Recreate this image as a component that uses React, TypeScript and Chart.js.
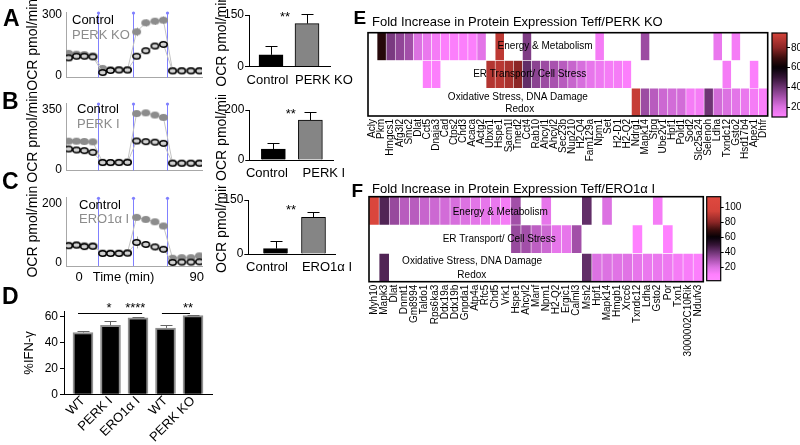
import React, { useEffect, useRef } from 'react';
import { Chart, registerables } from 'chart.js';

Chart.register(...registerables);

const FONT = "'Liberation Sans', Arial, Helvetica, sans-serif";
Chart.defaults.font.family = FONT;
Chart.defaults.color = '#000';

// ===================== DATA =====================
const N = null;

// Panels A–C : OCR traces
const OCR_TIMES = [-8, -2, 4, 10.5, 18, 24, 30.5, 37, 44, 51, 58, 64.5, 71.5, 78.5, 85.5, 92];
const INJECTION_TIMES = [14.5, 41, 67];
const OCR_X_TICKS = [0, 34, 90];
const OCR_X_TICK_LABELS = ['0', 'Time (min)', '90'];

const A_CONTROL = [90, 98, 98, 95, 18, 28, 30, 30, 98, 125, 148, 156, 26, 26, 26, 26];
const A_CONTROL_ERR = [5, 4, 4, 4, 3, 3, 3, 3, 10, 12, 14, 16, 3, 3, 3, 3];
const A_PERKKO = [112, 108, 106, 100, 38, 33, 33, 32, 218, 262, 270, 275, 28, 28, 28, 28];
const A_PERKKO_ERR = [8, 6, 6, 6, 4, 4, 4, 4, 22, 18, 18, 20, 3, 3, 3, 3];

const B_CONTROL = [120, 114, 110, 100, 40, 40, 40, 41, 167, 163, 160, 153, 36, 36, 36, 36];
const B_CONTROL_ERR = [5, 5, 5, 5, 3, 3, 3, 3, 12, 10, 10, 10, 3, 3, 3, 3];
const B_PERKI = [166, 166, 164, 162, 42, 40, 42, 44, 329, 333, 320, 306, 37, 36, 36, 37];
const B_PERKI_ERR = [6, 6, 6, 6, 3, 3, 3, 3, 12, 12, 12, 12, 3, 3, 3, 3];

const C_CONTROL = [58, 60, 55, 56, 32, 32, 32, 33, 69, 62, 54, 46, 2, 3, 3, 4];
const C_CONTROL_ERR = [4, 4, 4, 4, 3, 3, 3, 3, 20, 10, 12, 10, 3, 3, 3, 3];
const C_ERO1 = [60, 61, 59, 58, 34, 34, 34, 35, 153, 146, 138, 124, 16, 18, 18, 24];
const C_ERO1_ERR = [4, 4, 4, 4, 3, 3, 3, 3, 8, 8, 8, 8, 3, 3, 3, 3];

// Bar insets A–C
const BAR_A_GROUPS = ['Control', 'PERK KO'];
const BAR_A_VALUES = [34, 125];
const BAR_A_ERR = [27, 29];
const BAR_B_GROUPS = ['Control', 'PERK I'];
const BAR_B_VALUES = [44, 160];
const BAR_B_ERR = [25, 31];
const BAR_C_GROUPS = ['Control', 'ERO1\u03b1 I'];
const BAR_C_VALUES = [15, 102];
const BAR_C_ERR = [21, 16];

// Panel D
const IFN_GROUPS = ['WT', 'PERK I', 'ERO1\u03b1 I', 'WT', 'PERK KO'];
const IFN_VALUES = [47.5, 53, 58.7, 51, 60.5];
const IFN_ERR = [0.8, 3.2, 1.0, 2.5, 0.8];
const IFN_TICKS = [0, 20, 40, 60];

// Panel E heatmap
const E_GENES = ['Acly', 'Pkm', 'Hmgcs1', 'Afg3l2', 'Smc2', 'Dlat', 'Cct5', 'Dnaja3', 'Cad', 'Ctps2', 'Chd3', 'Acaca', 'Actg2', 'Ubxn1', 'Hspe1', 'Sacm1l', 'Tmed2', 'Cct4', 'Rab10', 'Ahcyl1', 'Ahcyl2', 'Sec23b', 'Nup210', 'H2-Q4', 'Fam129a', 'Npm1', 'Set', 'H2-D1', 'H2-Q2', 'Ndrg1', 'Mapk14', 'Sfpq', 'Ube2v1', 'Hpf1', 'Pold1', 'Sod2', 'Slc25a24', 'Selenoh', 'Ldha', 'Txndc12', 'Gsto2', 'Hsd17b4', 'Apex1', 'Dhfr'];
const E_ENERGY = [N, 66, 38, 34, 31, 20, 16, 13, 11, 11, 11, 11, 18, N, 90, N, N, 37, N, N, N, N, N, N, N, 13, N, N, N, N, 32, N, N, N, N, N, N, N, 16, N, 13, N, N, N];
const E_ER = [N, N, N, N, N, N, 11, 11, N, N, N, N, N, 88, 89, 86, 80, 42, 35, 32, 30, 27, 24, 21, 17, 15, 13, 13, 11, N, N, N, N, N, N, N, N, N, N, 13, N, N, 11, N];
const E_OXID = [N, N, N, N, N, N, N, N, N, N, N, N, N, N, N, N, N, N, N, N, N, N, N, N, N, N, N, N, N, 92, 32, 27, 23, 22, 22, 13, 13, 40, 22, 20, 18, 16, 13, 11];
const E_SCALE_TICKS = [20, 40, 60, 80];

// Panel F heatmap
const F_GENES = ['Myh10', 'Mapk3', 'Dlat', 'Dnmt1', 'Gm8994', 'Taldo1', 'Rps6ka3', 'Ddx19a', 'Ddx19b', 'Gnpda1', 'Atp4a', 'Rfc5', 'Chd5', 'Vrk1', 'Hspe1', 'Ahcyl2', 'Manf', 'Npm1', 'H2-Q2', 'Ergic1', 'Calml3', 'Msh2', 'Hpf1', 'Mapk14', 'Hmgb1', 'Xrcc6', 'Txndc12', 'Ldha', 'Gsto2', 'Por', 'Txn1', '3000002C10Rik', 'Ndufv3'];
const F_ENERGY = [105, 45, 33, 27, 27, 24, 23, 22, 21, 20, 18, 17, 16, 13, 31, N, N, 17, N, N, N, 42, N, 20, N, N, N, N, 13, N, N, N, N];
const F_ER = [N, N, N, N, N, N, N, N, N, N, N, N, N, N, 33, 31, 26, 23, 17, 17, 31, N, N, N, N, N, 9, N, N, 9, N, N, N];
const F_OXID = [N, 45, N, N, N, N, N, N, N, N, N, N, N, N, N, N, N, N, N, N, N, 42, 20, 20, 19, 19, 17, 16, 16, 15, 13, 12, 11];
const F_SCALE_TICKS = [20, 40, 60, 80, 100];

const ROW_LABELS = ['Energy & Metabolism', 'ER Transport/ Cell Stress', 'Oxidative Stress, DNA Damage', 'Redox'];

// ===================== STYLE HELPERS =====================
const COLOR_STOPS: [number, string][] = [
  [0, '#ff8cff'], [10, '#ff80ff'], [20, '#dc72e2'], [30, '#a852ae'], [40, '#6e3474'],
  [50, '#341436'], [60, '#050005'], [70, '#3c0e0e'], [80, '#8c2626'], [95, '#d5433a'], [120, '#e24a40'],
];
function hexRgb(h: string) {
  const n = parseInt(h.slice(1), 16);
  return [(n >> 16) & 255, (n >> 8) & 255, n & 255];
}
function colorAt(v: number) {
  const s = COLOR_STOPS;
  if (v <= s[0][0]) return s[0][1];
  for (let i = 0; i < s.length - 1; i++) {
    if (v <= s[i + 1][0]) {
      const t = (v - s[i][0]) / (s[i + 1][0] - s[i][0]);
      const a = hexRgb(s[i][1]);
      const b = hexRgb(s[i + 1][1]);
      const c = a.map((x, k) => Math.round(x + (b[k] - x) * t));
      return `rgb(${c[0]},${c[1]},${c[2]})`;
    }
  }
  return s[s.length - 1][1];
}

function makeEllipse(w: number, h: number, fill: string, stroke: string, lw: number) {
  const c = document.createElement('canvas');
  c.width = w + 2;
  c.height = h + 2;
  const g = c.getContext('2d')!;
  g.beginPath();
  g.ellipse(c.width / 2, c.height / 2, w / 2 - lw / 2, h / 2 - lw / 2, 0, 0, Math.PI * 2);
  g.fillStyle = fill;
  g.fill();
  if (lw > 0) {
    g.lineWidth = lw;
    g.strokeStyle = stroke;
    g.stroke();
  }
  return c;
}

// ===================== PLUGINS =====================
function drawErrors(chart: any, opts: any) {
  const ctx = chart.ctx;
  chart.data.datasets.forEach((ds: any, i: number) => {
    if (!ds.errors) return;
    const meta = chart.getDatasetMeta(i);
    const ys = chart.scales[meta.yAxisID];
    ctx.save();
    ctx.strokeStyle = opts.color || '#000';
    ctx.lineWidth = 1;
    meta.data.forEach((el: any, j: number) => {
      const e = ds.errors[j];
      const raw = ds.data[j];
      if (!e || raw == null) return;
      const v = typeof raw === 'number' ? raw : raw.y;
      const x = Math.round(el.x) + 0.5;
      const yTop = Math.round(ys.getPixelForValue(v + e)) + 0.5;
      const yBot = opts.oneSided ? ys.getPixelForValue(v) : ys.getPixelForValue(v - e);
      ctx.beginPath();
      ctx.moveTo(x, yTop);
      ctx.lineTo(x, yBot);
      if (opts.cap) {
        ctx.moveTo(x - opts.cap, yTop);
        ctx.lineTo(x + opts.cap, yTop);
      }
      ctx.stroke();
    });
    ctx.restore();
  });
}
const errorBarPlugin = {
  id: 'errorBars',
  beforeDatasetsDraw(chart: any, _a: any, opts: any) { if (opts.behind) drawErrors(chart, opts); },
  afterDatasetsDraw(chart: any, _a: any, opts: any) { if (!opts.behind) drawErrors(chart, opts); },
};

const injectionPlugin = {
  id: 'injections',
  beforeDatasetsDraw(chart: any, _a: any, opts: any) {
    if (!opts.times) return;
    const { ctx, chartArea, scales } = chart;
    ctx.save();
    ctx.strokeStyle = opts.color;
    ctx.fillStyle = opts.color;
    ctx.lineWidth = 1;
    opts.times.forEach((t: number) => {
      const px = Math.round(scales.x.getPixelForValue(t)) + 0.5;
      ctx.beginPath();
      ctx.moveTo(px, chartArea.top);
      ctx.lineTo(px, chartArea.bottom);
      ctx.stroke();
      ctx.beginPath();
      ctx.arc(px, chartArea.top + 1, 1.6, 0, Math.PI * 2);
      ctx.fill();
    });
    ctx.restore();
  },
};

const inlineLegendPlugin = {
  id: 'inlineLegend',
  afterDraw(chart: any, _a: any, opts: any) {
    if (opts.dx == null) return;
    const { ctx, chartArea } = chart;
    ctx.save();
    ctx.font = `${opts.size || 13}px ${FONT}`;
    ctx.textBaseline = 'middle';
    ctx.textAlign = 'left';
    chart.data.datasets.forEach((ds: any, i: number) => {
      ctx.fillStyle = ds.legendColor || '#000';
      ctx.fillText(ds.label, chartArea.left + opts.dx, chartArea.top + opts.dy + i * opts.gap);
    });
    ctx.restore();
  },
};

const annotationPlugin = {
  id: 'annotations',
  afterDatasetsDraw(chart: any, _a: any, opts: any) {
    const items = opts.items || [];
    const { ctx, scales } = chart;
    const xs = scales.x;
    const ys = scales.y;
    ctx.save();
    items.forEach((it: any) => {
      if (it.type === 'line') {
        const y = Math.round(ys.getPixelForValue(it.y)) + 0.5;
        ctx.strokeStyle = '#000';
        ctx.lineWidth = 1;
        ctx.beginPath();
        ctx.moveTo(xs.getPixelForValue(it.x1), y);
        ctx.lineTo(xs.getPixelForValue(it.x2), y);
        ctx.stroke();
      } else {
        ctx.fillStyle = '#000';
        ctx.font = `${opts.size || 13}px ${FONT}`;
        ctx.textAlign = 'center';
        ctx.textBaseline = 'middle';
        ctx.fillText(it.text, xs.getPixelForValue(it.x), ys.getPixelForValue(it.y));
      }
    });
    ctx.restore();
  },
};

const framePlugin = {
  id: 'frame',
  afterDraw(chart: any, _a: any, opts: any) {
    if (!opts.display) return;
    const { ctx, chartArea: a } = chart;
    ctx.save();
    ctx.strokeStyle = '#000';
    ctx.lineWidth = opts.width || 1.5;
    ctx.strokeRect(a.left, a.top, a.right - a.left, a.bottom - a.top);
    ctx.restore();
  },
};

const BASE = { responsive: false, animation: false, events: [] as any[] };
const NO_UI = { legend: { display: false }, tooltip: { enabled: false } };
const NO_GRID = { display: false, drawTicks: false };

// ===================== CONFIG BUILDERS =====================
function ocrLineConfig(p: any) {
  const controlPt = makeEllipse(9, 7, '#d2d2d2', '#000', 1.6);
  const treatedPt = makeEllipse(9, 7, '#8c8c8c', '#8c8c8c', 0);
  const toXY = (vals: number[]) => OCR_TIMES.map((t, i) => ({ x: t, y: vals[i] }));
  return {
    type: 'line',
    data: {
      datasets: [
        { label: 'Control', data: toXY(p.control), errors: p.controlErr, legendColor: '#000', borderColor: '#c4c4c4', borderWidth: 1, pointStyle: controlPt, pointRadius: 4, order: 0 },
        { label: p.treatedLabel, data: toXY(p.treated), errors: p.treatedErr, legendColor: '#8c8c8c', borderColor: '#c4c4c4', borderWidth: 1, pointStyle: treatedPt, pointRadius: 4, order: 1 },
      ],
    },
    options: {
      ...BASE,
      layout: { padding: { left: 0, right: p.padRight, top: p.padTop, bottom: 0 } },
      plugins: {
        ...NO_UI,
        inlineLegend: { dx: p.legendDx, dy: p.legendDy, gap: p.legendGap, size: 13 },
        injections: { times: INJECTION_TIMES, color: '#8080ff' },
        errorBars: { behind: true, color: '#b0b0b0' },
      },
      scales: {
        x: {
          type: 'linear', min: -10, max: 94, offset: false,
          grid: NO_GRID, border: { color: '#a8a8a8' },
          ticks: { display: p.showX, font: { size: 13 }, padding: 4, color: '#000', autoSkip: false, maxRotation: 0, callback: (_v: any, i: number) => OCR_X_TICK_LABELS[i] },
          afterBuildTicks: (s: any) => { s.ticks = OCR_X_TICKS.map((v) => ({ value: v })); },
          afterFit: (s: any) => { s.height = p.xHeight; s.paddingLeft = 0; s.paddingRight = 0; },
        },
        y: {
          type: 'linear', min: p.yMin, max: p.yMax,
          grid: NO_GRID, border: { color: '#a8a8a8' },
          ticks: { font: { size: 12 }, padding: 4, color: '#000' },
          afterBuildTicks: (s: any) => { s.ticks = p.yTicks.map((v: number) => ({ value: v })); },
          afterFit: (s: any) => { s.width = 66; s.paddingTop = 0; s.paddingBottom = 0; },
          title: { display: true, text: 'OCR pmol/min', font: { size: 14 }, color: '#000', padding: { top: 24.6, bottom: 0 } },
        },
      },
    },
    plugins: [errorBarPlugin, injectionPlugin, inlineLegendPlugin],
  };
}

function ocrBarConfig(p: any) {
  return {
    type: 'bar',
    data: {
      datasets: [{ data: p.values.map((v: number, i: number) => ({ x: i, y: v })), errors: p.errs, backgroundColor: ['#000', '#858585'], borderColor: '#000', borderWidth: 1, barThickness: 24 }],
    },
    options: {
      ...BASE,
      layout: { padding: { left: 0, right: p.padRight, top: p.padTop, bottom: 0 } },
      plugins: {
        ...NO_UI,
        errorBars: { color: '#000', oneSided: true, cap: 6 },
        annotations: { items: [{ type: 'text', text: '**', x: p.starX, y: p.starY }], size: 13 },
      },
      scales: {
        x: {
          type: 'linear', offset: false, min: p.xMin, max: p.xMax,
          grid: NO_GRID, border: { color: '#000' },
          ticks: { font: { size: 13 }, padding: 6, color: '#000', autoSkip: false, minRotation: 0, maxRotation: 0, callback: (_v: any, i: number) => p.groups[i] },
          afterBuildTicks: (s: any) => { s.ticks = p.labelAt.map((v: number) => ({ value: v })); },
          afterFit: (s: any) => { s.height = p.xHeight; s.paddingLeft = 0; s.paddingRight = 0; },
        },
        y: {
          min: 0, max: p.yMax,
          grid: { drawOnChartArea: false, drawTicks: true, tickLength: 4, color: '#000' },
          border: { color: '#000' },
          ticks: { font: { size: 12 }, padding: 1, color: '#000' },
          afterBuildTicks: (s: any) => { s.ticks = [0, p.yMax].map((v) => ({ value: v })); },
          afterFit: (s: any) => { s.width = p.yWidth; s.paddingTop = 0; s.paddingBottom = 0; },
          title: { display: true, text: 'OCR pmol/min', font: { size: 14 }, color: '#000', padding: { top: 1.6, bottom: 0 } },
        },
      },
    },
    plugins: [errorBarPlugin, annotationPlugin],
  };
}

function ifnConfig() {
  const sig = [
    { type: 'line', x1: -0.18, x2: 2.15, y: 62.5 },
    { type: 'text', text: '*', x: 0.95, y: 66 },
    { type: 'text', text: '****', x: 1.9, y: 66 },
    { type: 'line', x1: 2.87, x2: 3.89, y: 62.5 },
    { type: 'text', text: '**', x: 3.82, y: 66 },
  ];
  return {
    type: 'bar',
    data: {
      datasets: [{ data: IFN_VALUES.map((v, i) => ({ x: i, y: v })), errors: IFN_ERR, backgroundColor: '#000', borderColor: '#8f8f8f', borderWidth: 2, barThickness: 20 }],
    },
    options: {
      ...BASE,
      layout: { padding: { left: 0, right: 8, top: 26.7, bottom: 0 } },
      plugins: { ...NO_UI, errorBars: { color: '#666', oneSided: true, cap: 6 }, annotations: { items: sig, size: 13 } },
      scales: {
        x: {
          type: 'linear', offset: false, min: -0.69, max: 4.69,
          grid: NO_GRID, border: { color: '#000' },
          ticks: { font: { size: 13 }, color: '#000', autoSkip: false, minRotation: 45, maxRotation: 45, padding: -1, callback: (_v: any, i: number) => IFN_GROUPS[i] },
          afterBuildTicks: (s: any) => { s.ticks = IFN_GROUPS.map((_g, i) => ({ value: i })); },
          afterFit: (s: any) => { s.height = 50.7; s.paddingLeft = 0; s.paddingRight = 0; },
        },
        y: {
          min: 0, max: 63.5,
          grid: { drawOnChartArea: false, drawTicks: true, tickLength: 4, color: '#000' },
          border: { color: '#000' },
          ticks: { font: { size: 12 }, padding: 2, color: '#000' },
          afterBuildTicks: (s: any) => { s.ticks = IFN_TICKS.map((v) => ({ value: v })); },
          afterFit: (s: any) => { s.width = 64; s.paddingTop = 0; s.paddingBottom = 0; },
          title: { display: true, text: '%IFN-\u03b3', font: { size: 13 }, color: '#000', padding: { top: 22, bottom: 0 } },
        },
      },
    },
    plugins: [errorBarPlugin, annotationPlugin],
  };
}

function heatmapConfig(p: any) {
  const rowDataset = (vals: (number | null)[], r: number) => ({
    data: vals.map((v) => (v == null ? null : [2 - r, 3 - r])),
    backgroundColor: vals.map((v) => (v == null ? 'rgba(0,0,0,0)' : colorAt(v))),
    borderColor: 'rgba(255,255,255,0.4)',
    borderWidth: 0.6,
    borderSkipped: false,
    barPercentage: 1,
    categoryPercentage: 1,
    grouped: false,
  });
  return {
    type: 'bar',
    data: { labels: p.genes, datasets: p.rows.map(rowDataset) },
    options: {
      ...BASE,
      layout: { padding: p.padding },
      plugins: { ...NO_UI, annotations: { items: p.rowLabels, size: 10 }, frame: { display: true, width: 1.6 } },
      scales: {
        x: {
          type: 'category', offset: true,
          grid: NO_GRID, border: { display: false },
          ticks: { autoSkip: false, minRotation: 90, maxRotation: 90, font: { size: 10 }, padding: 3, color: '#000' },
          afterFit: (s: any) => { s.height = p.xHeight; s.paddingLeft = 0; s.paddingRight = 0; },
        },
        y: { type: 'linear', min: 0, max: 3, display: false },
      },
    },
    plugins: [annotationPlugin, framePlugin],
  };
}

function gradientFor(chart: any) {
  const { chartArea, scales } = chart;
  if (!chartArea) return '#ffffff';
  const y = scales.y;
  const g = chart.ctx.createLinearGradient(0, chartArea.bottom, 0, chartArea.top);
  const n = 40;
  for (let i = 0; i <= n; i++) {
    const v = y.min + ((y.max - y.min) * i) / n;
    g.addColorStop(i / n, colorAt(v));
  }
  return g;
}

function colorbarConfig(p: any) {
  return {
    type: 'bar',
    data: {
      labels: [''],
      datasets: [{ data: [[p.min, p.max]], backgroundColor: (c: any) => gradientFor(c.chart), borderWidth: 0, barPercentage: 1, categoryPercentage: 1 }],
    },
    options: {
      ...BASE,
      layout: { padding: p.padding },
      plugins: { ...NO_UI, frame: { display: true, width: 1.2 } },
      scales: {
        x: { display: false },
        y: {
          position: 'right', min: p.min, max: p.max,
          grid: { drawOnChartArea: false, drawTicks: true, tickLength: 3, color: '#000' },
          border: { display: false },
          ticks: { font: { size: p.fontSize }, padding: 1, color: '#000' },
          afterBuildTicks: (s: any) => { s.ticks = p.ticks.map((v: number) => ({ value: v })); },
          afterFit: (s: any) => { s.width = p.yWidth; s.paddingTop = 0; s.paddingBottom = 0; },
        },
      },
    },
    plugins: [framePlugin],
  };
}

// ===================== COMPONENTS =====================
function ChartBox({ left, top, width, height, make }: any) {
  const ref = useRef<HTMLCanvasElement>(null);
  useEffect(() => {
    const chart = new Chart(ref.current as HTMLCanvasElement, make());
    return () => chart.destroy();
  }, []);
  return <canvas ref={ref} width={width} height={height} style={{ position: 'absolute', left, top, width, height }} />;
}

function Text({ text, left, top, size, bold }: any) {
  return (
    <div style={{ position: 'absolute', left, top, fontFamily: FONT, fontSize: size, lineHeight: `${size}px`, fontWeight: bold ? 'bold' : 'normal', whiteSpace: 'nowrap', color: '#000' }}>
      {text}
    </div>
  );
}

export default function App() {
  return (
    <div style={{ position: 'absolute', left: 0, top: 0, width: 800, height: 445, background: '#fff', overflow: 'hidden' }}>
      <ChartBox left={0} top={0} width={215} height={90} make={() => ocrLineConfig({
        control: A_CONTROL, controlErr: A_CONTROL_ERR, treated: A_PERKKO, treatedErr: A_PERKKO_ERR, treatedLabel: 'PERK KO',
        yMin: -7, yMax: 315, yTicks: [0, 300], padTop: 12, padRight: 13, xHeight: 12.4, showX: false, legendDx: 6, legendDy: 8, legendGap: 15,
      })} />
      <ChartBox left={0} top={92} width={215} height={90} make={() => ocrLineConfig({
        control: B_CONTROL, controlErr: B_CONTROL_ERR, treated: B_PERKI, treatedErr: B_PERKI_ERR, treatedLabel: 'PERK I',
        yMin: -7, yMax: 391, yTicks: [0, 350], padTop: 11, padRight: 13, xHeight: 11.5, showX: false, legendDx: 11, legendDy: 6.3, legendGap: 14.7,
      })} />
      <ChartBox left={0} top={186} width={215} height={100} make={() => ocrLineConfig({
        control: C_CONTROL, controlErr: C_CONTROL_ERR, treated: C_ERO1, treatedErr: C_ERO1_ERR, treatedLabel: 'ERO1\u03b1 I',
        yMin: -10, yMax: 220, yTicks: [0, 200], padTop: 11.3, padRight: 13, xHeight: 20, showX: true, legendDx: 13, legendDy: 7.7, legendGap: 14,
      })} />

      <ChartBox left={212} top={0} width={150} height={92} make={() => ocrBarConfig({
        groups: BAR_A_GROUPS, values: BAR_A_VALUES, errs: BAR_A_ERR, yMax: 150, yWidth: 37, padRight: 32, padTop: 15, xHeight: 25.5,
        xMin: -0.611, xMax: 1.639, labelAt: [-0.097, 1.47], starX: 0.39, starY: 142.6,
      })} />
      <ChartBox left={212} top={95} width={150} height={92} make={() => ocrBarConfig({
        groups: BAR_B_GROUPS, values: BAR_B_VALUES, errs: BAR_B_ERR, yMax: 200, yWidth: 37.3, padRight: 29, padTop: 15, xHeight: 27,
        xMin: -0.65, xMax: 1.611, labelAt: [-0.176, 1.365], starX: 0.47, starY: 184,
      })} />
      <ChartBox left={212} top={185} width={150} height={92} make={() => ocrBarConfig({
        groups: BAR_C_GROUPS, values: BAR_C_VALUES, errs: BAR_C_ERR, yMax: 150, yWidth: 36.3, padRight: 27, padTop: 15, xHeight: 23,
        xMin: -0.716, xMax: 1.566, labelAt: [-0.224, 1.355], starX: 0.41, starY: 120,
      })} />

      <ChartBox left={0} top={285} width={220} height={160} make={ifnConfig} />

      <ChartBox left={360} top={28} width={412} height={150} make={() => heatmapConfig({
        genes: E_GENES, rows: [E_ENERGY, E_ER, E_OXID], xHeight: 62,
        padding: { left: 8, right: 4.3, top: 4.7, bottom: 0 },
        rowLabels: [
          { type: 'text', text: ROW_LABELS[0], x: 19, y: 2.5 },
          { type: 'text', text: ROW_LABELS[1], x: 17.3, y: 1.5 },
          { type: 'text', text: ROW_LABELS[2], x: 16, y: 0.68 },
          { type: 'text', text: ROW_LABELS[3], x: 16.2, y: 0.26 },
        ],
      })} />
      <ChartBox left={766} top={28} width={34} height={95} make={() => colorbarConfig({
        min: 10, max: 95, ticks: E_SCALE_TICKS, fontSize: 10, yWidth: 13, padding: { left: 6, right: 0, top: 5, bottom: 6 },
      })} />

      <ChartBox left={361} top={190} width={350} height={170} make={() => heatmapConfig({
        genes: F_GENES, rows: [F_ENERGY, F_ER, F_OXID], xHeight: 78.3,
        padding: { left: 8, right: 7.7, top: 6.7, bottom: 0 },
        rowLabels: [
          { type: 'text', text: ROW_LABELS[0], x: 12.45, y: 2.44 },
          { type: 'text', text: ROW_LABELS[1], x: 12.35, y: 1.5 },
          { type: 'text', text: ROW_LABELS[2], x: 9.68, y: 0.71 },
          { type: 'text', text: ROW_LABELS[3], x: 9.65, y: 0.23 },
        ],
      })} />
      <ChartBox left={700} top={190} width={50} height={96} make={() => colorbarConfig({
        min: 2, max: 114, ticks: F_SCALE_TICKS, fontSize: 10, yWidth: 29.3, padding: { left: 6.7, right: 0, top: 6.7, bottom: 5.3 },
      })} />

      <Text text="A" left={3} top={7} size={23} bold />
      <Text text="B" left={2} top={90} size={23} bold />
      <Text text="C" left={2} top={170} size={23} bold />
      <Text text="D" left={2} top={285} size={23} bold />
      <Text text="E" left={353.6} top={7.5} size={19} bold />
      <Text text="F" left={351.6} top={181} size={19} bold />
      <Text text="Fold Increase in Protein Expression Teff/PERK KO" left={372} top={15} size={13} />
      <Text text={'Fold Increase in Protein Expression Teff/ERO1\u03b1 I'} left={372} top={181.6} size={13} />
    </div>
  );
}
